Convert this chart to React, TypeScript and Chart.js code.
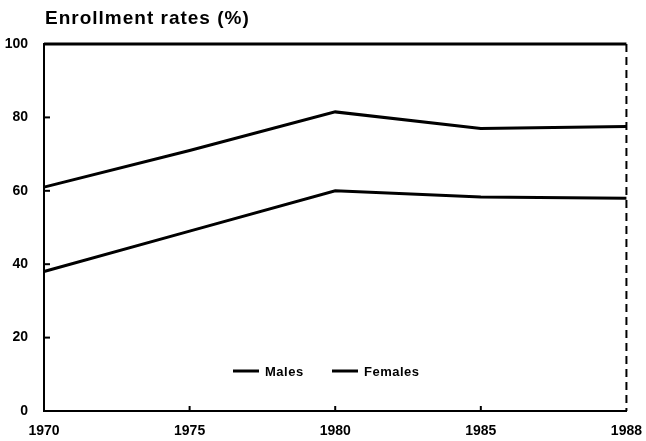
import React, { useEffect, useRef } from "react";
import { Chart, registerables } from "chart.js";

Chart.register(...registerables);

const years = ["1970", "1975", "1980", "1985", "1988"];
const males = [61, 71, 81.5, 77, 77.5];
const females = [38, 49, 60, 58.3, 58];
const yTicks = [0, 20, 40, 60, 80, 100];
const title = "Enrollment rates (%)";
const seriesNames = ["Males", "Females"];

const FONT = "'Liberation Sans', Arial, sans-serif";

const framePlugin = {
  id: "frame",
  afterDraw(chart: any) {
    const { ctx, chartArea } = chart;
    const { left, right, top, bottom } = chartArea;
    const x = chart.scales.x;
    const y = chart.scales.y;
    ctx.save();
    ctx.strokeStyle = "#000";
    ctx.lineWidth = 3;
    ctx.beginPath();
    ctx.moveTo(left, top);
    ctx.lineTo(right, top);
    ctx.stroke();
    ctx.lineWidth = 2;
    ctx.setLineDash([8, 5]);
    ctx.beginPath();
    ctx.moveTo(right, top);
    ctx.lineTo(right, bottom);
    ctx.stroke();
    ctx.setLineDash([]);
    ctx.lineWidth = 2;
    yTicks.slice(1, -1).forEach((v) => {
      const py = y.getPixelForValue(v);
      ctx.beginPath();
      ctx.moveTo(left, py);
      ctx.lineTo(left + 6, py);
      ctx.stroke();
    });
    years.slice(1, -1).forEach((_, i) => {
      const px = x.getPixelForValue(i + 1);
      ctx.beginPath();
      ctx.moveTo(px, bottom);
      ctx.lineTo(px, bottom - 5);
      ctx.stroke();
    });
    ctx.fillStyle = "#000";
    ctx.font = `bold 19px ${FONT}`;
    (ctx as any).letterSpacing = "1px";
    ctx.textBaseline = "alphabetic";
    ctx.textAlign = "left";
    ctx.fillText(title, 45, 24);
    ctx.font = `bold 13px ${FONT}`;
    (ctx as any).letterSpacing = "0.5px";
    ctx.textBaseline = "middle";
    ctx.lineWidth = 3;
    const ly = 371;
    const items = [
      { x: 233, text: seriesNames[0] },
      { x: 332, text: seriesNames[1] },
    ];
    items.forEach((it) => {
      ctx.beginPath();
      ctx.moveTo(it.x, ly);
      ctx.lineTo(it.x + 26, ly);
      ctx.stroke();
      ctx.fillText(it.text, it.x + 32, ly + 1);
    });
    ctx.restore();
  },
};

export default function App() {
  const ref = useRef<HTMLCanvasElement | null>(null);
  useEffect(() => {
    if (!ref.current) return;
    const chart = new Chart(ref.current, {
      type: "line",
      data: {
        labels: years,
        datasets: [
          {
            label: seriesNames[0],
            data: males,
            borderColor: "#000",
            borderWidth: 3,
            pointRadius: 0,
            tension: 0,
            fill: false,
          },
          {
            label: seriesNames[1],
            data: females,
            borderColor: "#000",
            borderWidth: 3,
            pointRadius: 0,
            tension: 0,
            fill: false,
          },
        ],
      },
      options: {
        animation: false,
        responsive: true,
        maintainAspectRatio: false,
        layout: { padding: { top: 44, right: 0, left: 0, bottom: 0 } },
        plugins: {
          legend: { display: false },
          title: { display: false },
          tooltip: { enabled: false },
        },
        scales: {
          x: {
            type: "category",
            offset: false,
            grid: { display: false },
            border: { display: true, color: "#000", width: 2 },
            ticks: {
              color: "#000",
              font: { family: FONT, weight: "bold", size: 14 },
              maxRotation: 0,
              autoSkip: false,
              padding: 4,
            },
            afterFit: (s: any) => {
              s.height = 30;
            },
          },
          y: {
            min: 0,
            max: 100,
            grid: { display: false },
            border: { display: true, color: "#000", width: 2 },
            afterBuildTicks: (s: any) => {
              s.ticks = yTicks.map((v) => ({ value: v }));
            },
            ticks: {
              color: "#000",
              font: { family: FONT, weight: "bold", size: 14 },
              padding: 8,
            },
            afterFit: (s: any) => {
              s.width = 44;
            },
          },
        },
      },
      plugins: [framePlugin],
    });
    return () => chart.destroy();
  }, []);
  return (
    <div style={{ position: "fixed", left: 0, top: 0, width: 646, height: 441, background: "#fff" }}>
      <canvas ref={ref} />
    </div>
  );
}
